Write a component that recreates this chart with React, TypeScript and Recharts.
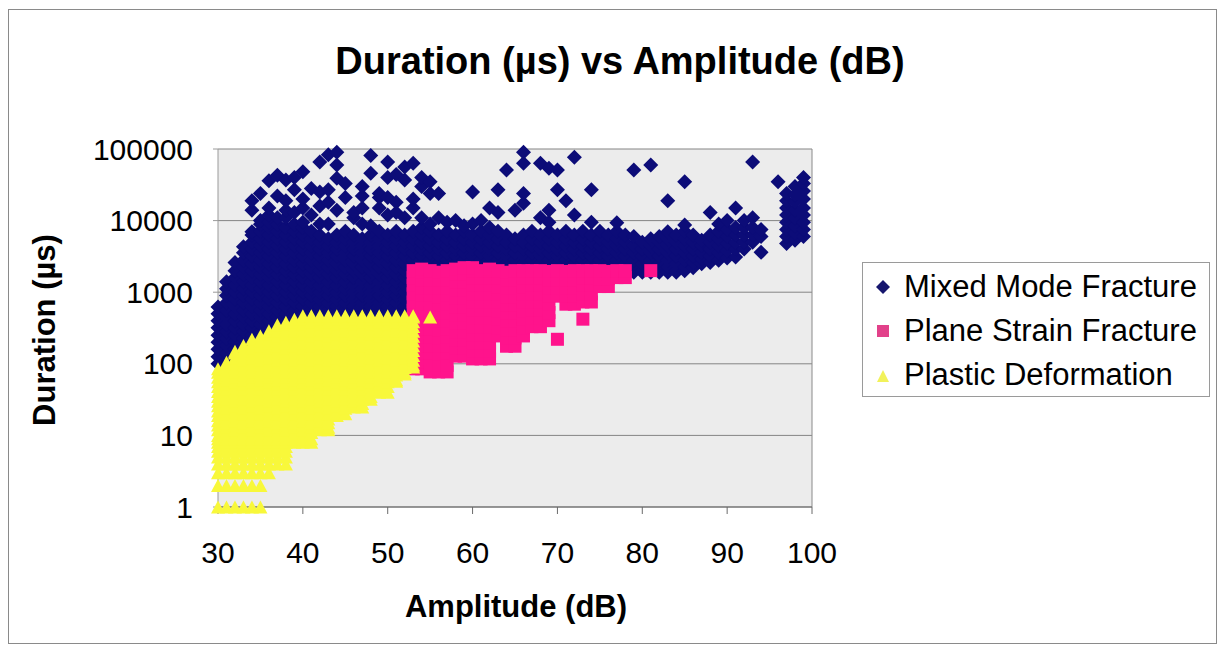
import { ScatterChart, Scatter, XAxis, YAxis, CartesianGrid, Legend, ReferenceLine } from 'recharts'

const NAVY = '#0c0c78'
const PINK = '#ff138c'
const YELLOW = '#f8f83a'
const FONT = '"Liberation Sans", Arial, sans-serif'

const amplitudeTicks = [30, 40, 50, 60, 70, 80, 90, 100]
const durationTicks = [1, 10, 100, 1000, 10000, 100000]

const seriesNames = ['Mixed Mode Fracture', 'Plane Strain Fracture', 'Plastic Deformation']

// [amplitude dB, durations µs at that amplitude]
const mixedMode: [number, number[]][] = [
  [30, [100, 125, 160, 200, 250, 320, 400, 500, 620]],
  [31, [112, 140, 180, 225, 280, 355, 450, 560, 710, 900, 1120, 1400]],
  [32, [160, 200, 250, 320, 400, 500, 630, 800, 1000, 1250, 1600, 2000, 2600]],
  [33, [180, 225, 280, 355, 450, 560, 710, 900, 1120, 1400, 1780, 2240, 2800, 3550, 4300]],
  [34, [250, 320, 400, 500, 630, 800, 1000, 1250, 1600, 2000, 2500, 3200, 4000, 5000, 6300, 7000, 14000, 19000]],
  [35, [280, 355, 450, 560, 710, 900, 1120, 1400, 1780, 2240, 2800, 3550, 4470, 5600, 7100, 8900, 10000, 24000]],
  [36, [320, 400, 500, 630, 800, 1000, 1250, 1600, 2000, 2500, 3200, 4000, 5000, 6300, 8000, 9500, 12000, 15000, 36000]],
  [37, [355, 450, 560, 710, 900, 1120, 1400, 1780, 2240, 2800, 3550, 4470, 5600, 7100, 8900, 11000, 22000, 43000]],
  [38, [400, 500, 630, 800, 1000, 1250, 1600, 2000, 2500, 3200, 4000, 5000, 6300, 8000, 11000, 14000, 19000, 37000]],
  [39, [450, 560, 710, 900, 1120, 1400, 1780, 2240, 2800, 3550, 4470, 5600, 7100, 8900, 13000, 27000, 40000]],
  [40, [500, 630, 800, 1000, 1250, 1600, 2000, 2500, 3200, 4000, 5000, 6300, 8000, 9500, 15000, 20000, 48000]],
  [41, [450, 560, 710, 900, 1120, 1400, 1780, 2240, 2800, 3550, 4470, 5600, 7100, 12000, 28000]],
  [42, [500, 630, 800, 1000, 1250, 1600, 2000, 2500, 3200, 4000, 5000, 6300, 9000, 16000, 25000, 66000]],
  [43, [450, 560, 710, 900, 1120, 1400, 1780, 2240, 2800, 3550, 4470, 5600, 9000, 18000, 27000, 83000]],
  [44, [500, 630, 800, 1000, 1250, 1600, 2000, 2500, 3200, 4000, 5000, 6300, 14000, 39000, 60000, 90000]],
  [45, [450, 560, 710, 900, 1120, 1400, 1780, 2240, 2800, 3550, 4470, 5600, 7100, 21000, 33000]],
  [46, [500, 630, 800, 1000, 1250, 1600, 2000, 2500, 3200, 4000, 5000, 6300, 11000, 13000]],
  [47, [450, 560, 710, 900, 1120, 1400, 1780, 2240, 2800, 3550, 4470, 5600, 9000, 15000, 22000, 30000]],
  [48, [500, 630, 800, 1000, 1250, 1600, 2000, 2500, 3200, 4000, 5000, 6300, 8500, 46000, 81000]],
  [49, [450, 560, 710, 900, 1120, 1400, 1780, 2240, 2800, 3550, 4470, 5600, 7100, 15000, 21000, 24000]],
  [50, [500, 630, 800, 1000, 1250, 1600, 2000, 2500, 3200, 4000, 5000, 6300, 12000, 21000, 40000, 66000]],
  [51, [450, 560, 710, 900, 1120, 1400, 1780, 2240, 2800, 3550, 4470, 5600, 7100, 13000, 18000, 44000]],
  [52, [500, 630, 800, 1000, 1250, 1600, 2000, 2500, 3200, 4000, 5000, 6300, 11000, 37000, 56000]],
  [53, [1800, 2240, 2800, 3550, 4470, 5600, 7100, 15000, 20000, 63000]],
  [54, [1800, 2000, 2500, 3200, 4000, 5000, 6300, 8000, 11000, 30000, 40000]],
  [55, [1800, 2240, 2800, 3550, 4470, 5600, 7100, 9000, 24000, 35000]],
  [56, [1800, 2000, 2500, 3200, 4000, 5000, 6300, 11000, 24000]],
  [57, [1800, 2240, 2800, 3550, 4470, 5600, 7100, 9500]],
  [58, [1800, 2000, 2500, 3200, 4000, 5000, 6300, 10000]],
  [59, [1800, 2240, 2800, 3550, 4470, 5600, 7100, 8500]],
  [60, [1800, 2000, 2500, 3200, 4000, 5000, 6300, 9000, 25000]],
  [61, [1800, 2240, 2800, 3550, 4470, 5600, 7100, 10000]],
  [62, [1800, 2000, 2500, 3200, 4000, 5000, 6300, 8000, 15000]],
  [63, [1800, 2240, 2800, 3550, 4470, 5600, 7100, 13000, 27000]],
  [64, [1800, 2000, 2500, 3200, 4000, 5000, 6300, 51000]],
  [65, [1800, 2240, 2800, 3550, 4470, 5600, 14000]],
  [66, [1800, 2000, 2500, 3200, 4000, 5000, 6300, 17500, 24000, 63000, 90000]],
  [67, [1800, 2240, 2800, 3550, 4470, 5600, 7100]],
  [68, [1800, 2000, 2500, 3200, 4000, 5000, 6300, 11000, 63000]],
  [69, [1800, 2240, 2800, 3550, 4470, 5600, 7100, 9500, 14000, 54000]],
  [70, [1800, 2000, 2500, 3200, 4000, 5000, 6300, 27000, 51000]],
  [71, [1800, 2240, 2800, 3550, 4470, 5600, 7100, 19000]],
  [72, [1800, 2000, 2500, 3200, 4000, 5000, 6300, 12000, 77000]],
  [73, [1800, 2240, 2800, 3550, 4470, 5600, 7100]],
  [74, [1800, 2000, 2500, 3200, 4000, 5000, 6300, 9500, 27000]],
  [75, [1800, 2240, 2800, 3550, 4470, 5600, 7100]],
  [76, [1800, 2000, 2500, 3200, 4000, 5000, 6300]],
  [77, [1800, 2240, 2800, 3550, 4470, 5600, 7100, 9300]],
  [78, [1800, 2000, 2500, 3200, 4000, 5000, 6300]],
  [79, [1900, 2240, 2800, 3550, 4470, 6000, 51000]],
  [80, [1900, 2000, 2500, 3200, 4000, 5000]],
  [81, [1900, 2240, 2800, 3550, 4470, 5600, 60000]],
  [82, [1900, 2100, 2500, 3200, 4000, 5000, 6000]],
  [83, [1900, 2240, 2800, 3550, 4470, 5600, 7000, 19000]],
  [84, [1900, 2000, 2500, 3200, 4000, 5000, 6300]],
  [85, [2000, 2240, 2800, 3550, 4470, 5600, 7100, 8700, 35000]],
  [86, [2200, 2600, 3200, 4000, 5000, 6300]],
  [87, [2500, 2900, 3600, 4500, 5300]],
  [88, [2600, 3200, 4000, 5000, 6300, 13000]],
  [89, [2800, 3550, 4470, 5600, 7100, 9000]],
  [90, [3000, 3800, 4800, 6000, 7500, 10000]],
  [91, [3100, 4000, 5000, 6300, 8000, 15000]],
  [92, [4000, 5000, 6300, 8000, 10000]],
  [93, [5000, 6300, 8000, 11000, 66000]],
  [94, [3600, 6000, 7500]],
  [96, [35000]],
  [97, [4800, 6000, 7500, 9500, 12000, 15000, 19000, 24000]],
  [98, [5300, 6700, 8500, 11000, 14000, 18000, 23000, 30000]],
  [99, [6000, 7500, 9500, 12000, 15000, 20000, 26000, 33000, 40000]],
]

const planeStrain: [number, number[]][] = [
  [53, [85, 110, 145, 190, 250, 330, 430, 560, 730, 950, 1250, 1600, 2000]],
  [54, [85, 105, 140, 180, 240, 310, 400, 520, 680, 900, 1150, 1500, 1900, 2100]],
  [55, [77, 95, 140, 180, 240, 310, 400, 520, 680, 900, 1150, 1500, 2000]],
  [56, [77, 95, 135, 175, 230, 300, 390, 510, 670, 870, 1130, 1480, 1900]],
  [57, [77, 95, 140, 180, 240, 310, 400, 520, 680, 900, 1150, 1500, 2000]],
  [58, [128, 165, 215, 280, 370, 480, 630, 820, 1070, 1400, 1800, 2100]],
  [59, [128, 165, 215, 280, 370, 480, 630, 820, 1070, 1400, 1800, 2200]],
  [60, [117, 150, 195, 255, 330, 430, 560, 730, 950, 1250, 1600, 2000, 2200]],
  [61, [117, 150, 195, 255, 330, 430, 560, 730, 950, 1250, 1600, 2000]],
  [62, [117, 150, 195, 255, 330, 430, 560, 730, 950, 1250, 1600, 2000, 2100]],
  [63, [245, 320, 420, 550, 720, 940, 1200, 1600, 2000]],
  [64, [176, 230, 300, 390, 510, 670, 870, 1130, 1480, 1900]],
  [65, [176, 230, 300, 390, 510, 670, 870, 1130, 1480, 2000]],
  [66, [245, 320, 420, 550, 720, 940, 1200, 1600, 2000]],
  [67, [330, 430, 560, 730, 950, 1250, 1600, 2000]],
  [68, [330, 430, 560, 730, 950, 1250, 1600, 2000]],
  [69, [400, 520, 680, 890, 1150, 1500, 1950]],
  [70, [220, 880, 1150, 1500, 2000]],
  [71, [680, 890, 1150, 1500, 1950]],
  [72, [680, 890, 1150, 1500, 2000]],
  [73, [420, 730, 950, 1250, 1600, 2000]],
  [74, [730, 950, 1250, 1600, 2000]],
  [75, [1200, 1550, 2000]],
  [76, [1200, 1550, 1950]],
  [77, [1600, 2000]],
  [78, [1600, 2000]],
  [81, [2000]],
]

const plastic: [number, number[]][] = [
  [30, [1, 2, 3, 4, 5, 6, 7, 8, 9, 10, 12, 14, 16, 19, 22, 26, 30, 35, 41, 48, 56, 65, 76, 85]],
  [31, [1, 2, 3, 4, 5, 6, 7, 8, 9, 11, 13, 15, 17, 20, 24, 28, 32, 38, 44, 52, 60, 70, 82, 96, 105]],
  [32, [1, 2, 3, 4, 5, 6, 7, 8, 9, 10, 12, 14, 16, 19, 22, 26, 30, 35, 41, 48, 56, 65, 76, 89, 104, 121, 141, 150]],
  [33, [1, 2, 3, 4, 5, 6, 7, 8, 9, 11, 13, 15, 17, 20, 24, 28, 32, 38, 44, 52, 60, 70, 82, 96, 112, 131, 153, 180]],
  [34, [1, 2, 3, 4, 5, 6, 7, 8, 9, 10, 12, 14, 16, 19, 22, 26, 30, 35, 41, 48, 56, 65, 76, 89, 104, 121, 141, 165, 193, 220]],
  [35, [1, 2, 3, 4, 5, 6, 7, 8, 9, 11, 13, 15, 17, 20, 24, 28, 32, 38, 44, 52, 60, 70, 82, 96, 112, 131, 153, 178, 208, 245]],
  [36, [3, 4, 5, 6, 7, 8, 9, 10, 12, 14, 16, 19, 22, 26, 30, 35, 41, 48, 56, 65, 76, 89, 104, 121, 141, 165, 193, 225, 263, 290]],
  [37, [4, 5, 6, 7, 8, 9, 11, 13, 15, 17, 20, 24, 28, 32, 38, 44, 52, 60, 70, 82, 96, 112, 131, 153, 178, 208, 243, 284, 331, 350]],
  [38, [4, 5, 6, 7, 8, 9, 10, 12, 14, 16, 19, 22, 26, 30, 35, 41, 48, 56, 65, 76, 89, 104, 121, 141, 165, 193, 225, 263, 307, 358, 380]],
  [39, [8, 9, 11, 13, 15, 17, 20, 24, 28, 32, 38, 44, 52, 60, 70, 82, 96, 112, 131, 153, 178, 208, 243, 284, 331, 387, 420]],
  [40, [8, 9, 10, 12, 14, 16, 19, 22, 26, 30, 35, 41, 48, 56, 65, 76, 89, 104, 121, 141, 165, 193, 225, 263, 307, 358, 418, 470]],
  [41, [8, 9, 11, 13, 15, 17, 20, 24, 28, 32, 38, 44, 52, 60, 70, 82, 96, 112, 131, 153, 178, 208, 243, 284, 331, 387, 450, 470]],
  [42, [12, 14, 16, 19, 22, 26, 30, 35, 41, 48, 56, 65, 76, 89, 104, 121, 141, 165, 193, 225, 263, 307, 358, 418, 470]],
  [43, [12, 13, 15, 17, 20, 24, 28, 32, 38, 44, 52, 60, 70, 82, 96, 112, 131, 153, 178, 208, 243, 284, 331, 387, 450, 470]],
  [44, [19, 22, 26, 30, 35, 41, 48, 56, 65, 76, 89, 104, 121, 141, 165, 193, 225, 263, 307, 358, 418, 470]],
  [45, [20, 24, 28, 32, 38, 44, 52, 60, 70, 82, 96, 112, 131, 153, 178, 208, 243, 284, 331, 387, 450, 470]],
  [46, [25, 30, 35, 41, 48, 56, 65, 76, 89, 104, 121, 141, 165, 193, 225, 263, 307, 358, 418, 470]],
  [47, [25, 28, 32, 38, 44, 52, 60, 70, 82, 96, 112, 131, 153, 178, 208, 243, 284, 331, 387, 450, 470]],
  [48, [32, 35, 41, 48, 56, 65, 76, 89, 104, 121, 141, 165, 193, 225, 263, 307, 358, 418, 470]],
  [49, [40, 44, 52, 60, 70, 82, 96, 112, 131, 153, 178, 208, 243, 284, 331, 387, 450, 470]],
  [50, [40, 48, 56, 65, 76, 89, 104, 121, 141, 165, 193, 225, 263, 307, 358, 418, 470]],
  [51, [57, 60, 70, 82, 96, 112, 131, 153, 178, 208, 243, 284, 331, 387, 450, 470]],
  [52, [72, 76, 89, 104, 121, 141, 165, 193, 225, 263, 307, 358, 418, 470]],
  [53, [90, 96, 112, 131, 153, 178, 208, 243, 284, 331, 387, 450, 470]],
  [55, [450]],
]

const toPoints = (cols: [number, number[]][]) =>
  cols.flatMap(([amp, durs]) => durs.map((dur) => ({ amp, dur })))

const mixedData = toPoints(mixedMode)
const strainData = toPoints(planeStrain)
const plasticData = toPoints(plastic)

const diamondPath = (cx: number, cy: number, r: number) =>
  `${cx},${cy - r} ${cx + r},${cy} ${cx},${cy + r} ${cx - r},${cy}`
const trianglePath = (cx: number, cy: number, w: number, h: number) =>
  `${cx},${cy - h} ${cx + w},${cy + h} ${cx - w},${cy + h}`

const DiamondDot = (p: any) => <polygon points={diamondPath(p.cx, p.cy, 7.5)} fill={NAVY} />
const SquareDot = (p: any) => <rect x={p.cx - 6.5} y={p.cy - 6.5} width={13} height={13} fill={PINK} />
const TriangleDot = (p: any) => <polygon points={trianglePath(p.cx, p.cy, 7, 6.5)} fill={YELLOW} />

function LegendBox() {
  const markers = [
    <polygon points={diamondPath(12, 12, 7)} fill="#16166e" />,
    <rect x={6} y={6} width={12} height={12} fill="#e2418a" />,
    <polygon points={trianglePath(12, 13, 6, 6)} fill="#f2f25a" />,
  ]
  return (
    <div
      style={{
        width: 346,
        height: 133,
        border: '1px solid #9a9a9a',
        background: '#fff',
        fontFamily: FONT,
        fontSize: 31,
        color: '#000',
      }}
    >
      {seriesNames.map((name, i) => (
        <div key={name} style={{ display: 'flex', alignItems: 'center', height: 44, marginTop: i === 0 ? 2 : 0 }}>
          <svg width={24} height={24} style={{ marginLeft: 8, marginRight: 9 }}>
            {markers[i]}
          </svg>
          <span style={{ whiteSpace: 'nowrap' }}>{name}</span>
        </div>
      ))}
    </div>
  )
}

export default function App() {
  return (
    <div style={{ position: 'absolute', left: 0, top: 0, width: 1224, height: 651, background: '#fff', fontFamily: FONT }}>
      <div style={{ position: 'absolute', left: 8, top: 9, width: 1207, height: 633, border: '1px solid #8a8a8a' }} />
      <div
        style={{
          position: 'absolute',
          left: 320,
          width: 600,
          top: 38,
          textAlign: 'center',
          fontSize: 38,
          fontWeight: 'bold',
          lineHeight: '46px',
        }}
      >
        Duration (µs) vs Amplitude (dB)
      </div>
      <div
        style={{
          position: 'absolute',
          left: 45,
          top: 330,
          transform: 'translate(-50%, -50%) rotate(-90deg)',
          fontSize: 31,
          fontWeight: 'bold',
          whiteSpace: 'nowrap',
          lineHeight: '36px',
        }}
      >
        Duration (µs)
      </div>
      <div
        style={{
          position: 'absolute',
          left: 516,
          top: 607,
          transform: 'translate(-50%, -50%)',
          fontSize: 31,
          fontWeight: 'bold',
          whiteSpace: 'nowrap',
          lineHeight: '36px',
        }}
      >
        Amplitude (dB)
      </div>
      <div style={{ position: 'absolute', left: 0, top: 0 }}>
        <ScatterChart width={1224} height={651} margin={{ top: 149, right: 412, bottom: 84, left: 0 }}>
          <CartesianGrid vertical={false} fill="#ececec" stroke="#858585" />
          <XAxis
            type="number"
            dataKey="amp"
            domain={[30, 100]}
            ticks={amplitudeTicks}
            height={60}
            tickSize={7}
            tickMargin={28}
            stroke="#6a6a6a"
            tick={{ fill: '#000', fontSize: 30, fontFamily: FONT }}
          />
          <YAxis
            type="number"
            dataKey="dur"
            scale="log"
            domain={[1, 100000]}
            ticks={durationTicks}
            width={218}
            tickSize={5}
            tickMargin={20}
            stroke="#9a9a9a"
            tick={{ fill: '#000', fontSize: 30, fontFamily: FONT }}
          />
          <ReferenceLine x={100} stroke="#8a8a8a" />
          <Scatter name={seriesNames[0]} data={mixedData} shape={DiamondDot} isAnimationActive={false} />
          <Scatter name={seriesNames[1]} data={strainData} shape={SquareDot} isAnimationActive={false} />
          <Scatter name={seriesNames[2]} data={plasticData} shape={TriangleDot} isAnimationActive={false} />
          <Legend
            layout="vertical"
            align="center"
            verticalAlign="middle"
            wrapperStyle={{ left: 862, top: 262, width: 348 }}
            content={() => <LegendBox />}
          />
        </ScatterChart>
      </div>
    </div>
  )
}
